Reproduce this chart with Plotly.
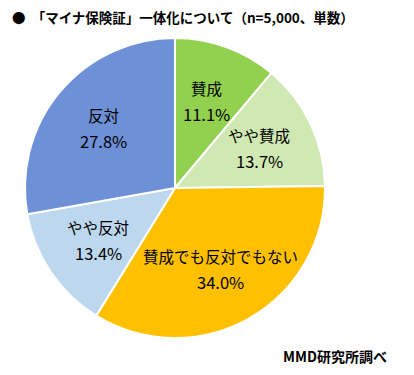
import math
import plotly.graph_objects as go

labels = ["賛成", "やや賛成", "賛成でも反対でもない", "やや反対", "反対"]
values = [11.1, 13.7, 34.0, 13.4, 27.8]
colors = ["#92D050", "#D0E8B2", "#FFC000", "#BDD7EE", "#6E90D6"]

title_text = "●  「マイナ保険証」一体化について（n=5,000、単数）"
source_text = "MMD研究所調べ"

W, H = 414, 375
OFF = 8  # browser body margin


def fx(px):
    return (px - OFF) / W


def fy(py):
    return 1 - (py - OFF) / H


# pie geometry in page pixels
CX, CY, R = 175, 188, 150
FONT = "Noto Sans CJK JP"

fig = go.Figure(go.Pie(
    labels=labels,
    values=values,
    sort=False,
    direction="clockwise",
    rotation=0,
    marker=dict(colors=colors, line=dict(color="white", width=2)),
    textinfo="none",
    domain=dict(x=[fx(CX - R), fx(CX + R)], y=[fy(CY + R), fy(CY - R)]),
    showlegend=False,
    hoverinfo="skip",
))

annotations = []
total = sum(values)
cum = 0.0
for lab, v in zip(labels, values):
    mid = (cum + v / 2) / total * 2 * math.pi
    cum += v
    px = CX + 0.62 * R * math.sin(mid)
    py = CY - 0.62 * R * math.cos(mid)
    annotations.append(dict(text=lab, x=fx(px), y=fy(py - 13), xref="paper", yref="paper",
                            xanchor="center", yanchor="middle", showarrow=False,
                            font=dict(size=15.5, color="black", family=FONT)))
    annotations.append(dict(text=f"{v:.1f}%", x=fx(px), y=fy(py + 13), xref="paper", yref="paper",
                            xanchor="center", yanchor="middle", showarrow=False,
                            font=dict(size=16.5, color="black", family=FONT)))

annotations.append(dict(text="<b>" + title_text + "</b>", x=fx(10), y=fy(17),
                        xref="paper", yref="paper", xanchor="left", yanchor="middle",
                        showarrow=False, font=dict(size=13.5, color="black", family=FONT)))
annotations.append(dict(text="<b>" + source_text + "</b>", x=fx(389), y=fy(356),
                        xref="paper", yref="paper", xanchor="right", yanchor="middle",
                        showarrow=False, font=dict(size=14, color="black", family=FONT)))

fig.update_layout(
    width=W, height=H,
    margin=dict(l=0, r=0, t=0, b=0),
    paper_bgcolor="white",
    plot_bgcolor="white",
    font=dict(family=FONT),
    annotations=annotations,
)

fig.write_html("out.html")
